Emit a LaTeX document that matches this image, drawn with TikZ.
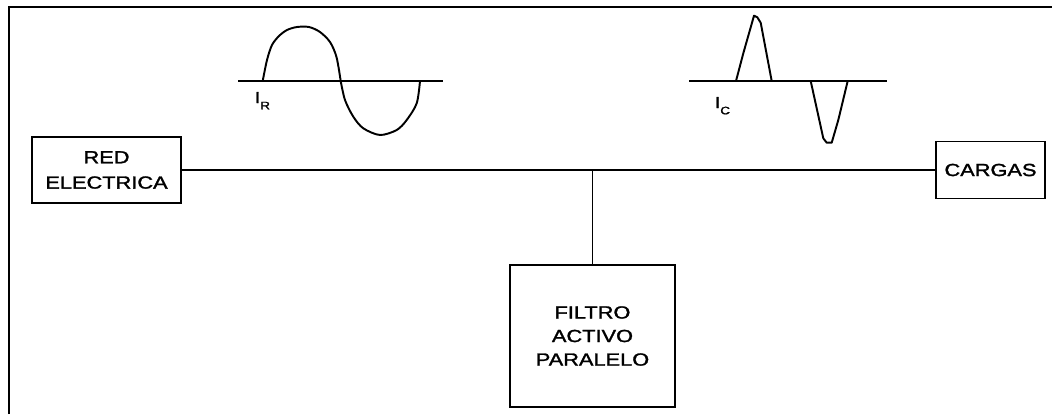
\documentclass[tikz,border=0pt]{standalone}
\usepackage{fontspec}
\usepackage{tikz}
\newfontfamily\blockfont[FakeStretch=1.24, FakeBold=1.6]{Liberation Sans}
\tikzset{
  block/.style={draw, line width=1.1pt, align=center, inner sep=0pt,
    font=\blockfont\fontsize{10}{13.4}\selectfont},
  wire/.style={line width=0.85pt},
  wave/.style={line width=1.1pt, line join=round},
  axis/.style={line width=1.3pt},
  sig/.style={inner sep=0pt, anchor=base west, font=\blockfont\fontsize{9}{10}\selectfont}
}
\newcommand{\subidx}[1]{\raisebox{-3.6pt}{\fontsize{6.2}{6}\selectfont #1}}

\begin{document}
\begin{tikzpicture}[x=0.02cm, y=-0.02cm]
  \useasboundingbox (0,0) rectangle (1052,414);
  \draw[line width=1.3pt] (9,414) -- (9,7) -- (1052,7);

  \node[block, minimum width=149*0.02cm, minimum height=66*0.02cm] (red) at (106.5,170) {RED\\[1pt]ELECTRICA};
  \node[block, minimum width=109*0.02cm, minimum height=57*0.02cm] (cargas) at (990.5,170) {CARGAS};
  \node[block, minimum width=165*0.02cm, minimum height=142*0.02cm] (filtro) at (592.5,336) {FILTRO\\ACTIVO\\PARALELO};
  \coordinate (junction) at (592.5,170);

  \draw[wire] (red) -- (cargas);
  \draw[wire] (junction) -- (filtro);

  \coordinate (ir1) at (238,81);
  \coordinate (ir2) at (443,81);
  \draw[axis] (ir1) -- (ir2);
  \draw[wave] plot[smooth, tension=0.5] coordinates {(262.7,81) (267,60) (272,45) (279,36) (287,30) (297,27) (309,27) (320,32) (330,42) (336.5,57) (340.7,81)};
  \draw[wave] plot[smooth, tension=0.5] coordinates {(340.7,81) (345,100) (353.3,116.7) (363.3,128.3) (380,135) (396.7,130) (406.7,120) (416.7,103.3) (420,81)};
  \node[sig] (ir) at (254.5,103) {I\subidx{R}};

  \coordinate (ic1) at (689,81);
  \coordinate (ic2) at (887,81);
  \draw[axis] (ic1) -- (ic2);
  \draw[wave] (736,81) -- (743.3,53.3) -- (754,15.7) -- (757.3,17.3) -- (760.7,22.7) -- (771.7,81);
  \draw[wave] (810.7,81) -- (823.3,138.3) -- (826.7,142.7) -- (831.7,142.7) -- (838.3,120) -- (847.7,81);
  \node[sig] (ic) at (714.5,108) {I\subidx{C}};
\end{tikzpicture}
\end{document}
